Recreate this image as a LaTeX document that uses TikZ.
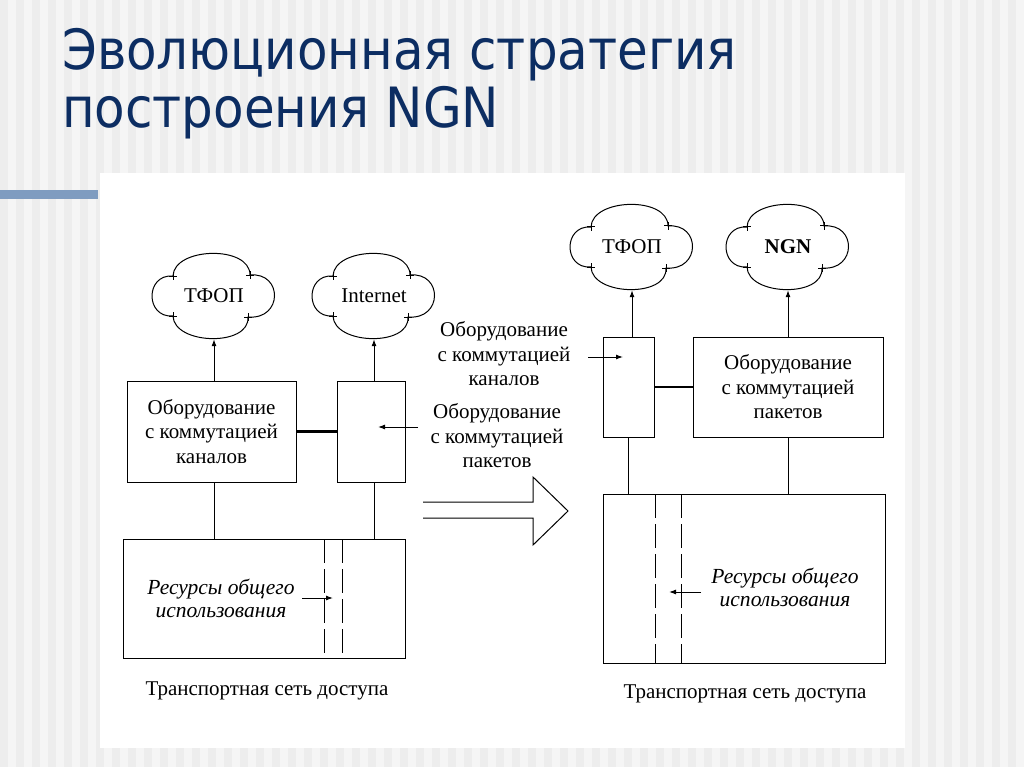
\documentclass[tikz,border=0pt]{standalone}
\usepackage{fontspec}
\setmainfont{Liberation Serif}
\newfontfamily\titlefont{DejaVu Sans Condensed}
\usetikzlibrary{arrows.meta}
\definecolor{titleblue}{RGB}{12,45,98}
\definecolor{barblue}{RGB}{127,156,192}
\tikzset{
  box/.style={draw, line width=1pt, inner sep=0pt, align=center, font=\fontsize{21}{24.5}\selectfont},
  lbl/.style={align=center, inner sep=0pt, font=\fontsize{21}{24.5}\selectfont},
  res/.style={align=center, inner sep=0pt, font=\fontsize{21.5}{23}\selectfont\itshape},
  cl/.style={inner sep=0pt, minimum width=122pt, minimum height=86pt, font=\fontsize{21}{22}\selectfont},
  ttl/.style={anchor=base west, inner sep=0pt, text=titleblue, font=\titlefont\fontsize{55.5}{59}\selectfont},
  tip/.style={line width=1pt, -{Latex[length=7pt,width=5pt]}},
  link/.style={line width=1pt},
  thick link/.style={line width=2.2pt},
  dash line/.style={line width=1pt, dash pattern=on 24pt off 6pt},
}
\newcommand\cloudline[1]{%
  \begin{scope}[shift={(#1.center)}, line width=1pt]
    \draw (-41,-20) .. controls (-40,-49) and (36,-51) .. (36,-21)
      .. controls (69,-24) and (69,24) .. (34,21)
      .. controls (36,51) and (-40,49) .. (-41,20)
      .. controls (-69,22) and (-69,-22) .. (-41,-20);
    \foreach \p in {(-41,-20),(36,-21),(34,21),(-41,20)}
      \draw \p ++(-4,0) -- ++(8,0) \p ++(0,-4) -- ++(0,8);
  \end{scope}}
\begin{document}
\begin{tikzpicture}[x=1pt,y=-1pt]
\useasboundingbox (0,0) rectangle (1024,767);
\fill[black!4] (0,0) rectangle (1024,767);
\foreach \x in {0,16,...,1010} \fill[black!7] (\x,0) rectangle +(8,767);
\fill[white] (100,173) rectangle (905,748);
\fill[barblue] (0,190) rectangle (98,199);
\node[ttl] (title1) at (62,70){Эволюционная стратегия};
\node[ttl] (title2) at (62,128){построения NGN};
\node[cl] (tfopL) at (214,296){ТФОП};
\node[cl] (inet) at (374,296){Internet};
\cloudline{tfopL}
\cloudline{inet}
\node[box, minimum width=169pt, minimum height=101pt] (chL) at (211.5,431.5){Оборудование\\с коммутацией\\каналов};
\node[box, minimum width=68pt, minimum height=101pt] (pkL) at (371,431.5){};
\node[box, minimum width=282pt, minimum height=119pt] (resL) at (264,598.5){};
\draw[tip] (tfopL.south |- chL.north) -- (tfopL.south);
\draw[tip] (inet.south |- pkL.north) -- (inet.south);
\draw[thick link] (chL.east) -- (pkL.west);
\draw[link] (tfopL.south |- chL.south) -- (tfopL.south |- resL.north);
\draw[link] (inet.south |- pkL.south) -- (inet.south |- resL.north);
\draw[dash line] (324,539) -- (324,658);
\draw[dash line] (342,539) -- (342,658);
\node[res] (useL) at (221,598){Ресурсы общего\\использования};
\coordinate (useLa) at (302,598);
\coordinate (useLb) at (333,598);
\draw[tip] (useLa) -- (useLb);
\node[lbl] (netL) at (267,691){Транспортная сеть доступа};
\node[lbl] (lblPk) at (497,436){Оборудование\\с коммутацией\\пакетов};
\coordinate (pkLa) at (418,427);
\coordinate (pkLb) at (378,427);
\draw[tip] (pkLa) -- (pkLb);
\draw[line width=1pt] (423,502) -- (533,502) -- (533,477) -- (568,511) -- (533,545) -- (533,518) -- (423,518);
\node[cl] (tfopR) at (632,247){ТФОП};
\node[cl, font=\fontsize{21}{22}\selectfont\bfseries] (ngn) at (788,247){NGN};
\cloudline{tfopR}
\cloudline{ngn}
\node[box, minimum width=51pt, minimum height=100pt] (chR) at (628.5,387){};
\node[box, minimum width=190pt, minimum height=100pt] (pkR) at (788,387){Оборудование\\с коммутацией\\пакетов};
\node[box, minimum width=282pt, minimum height=169pt] (resR) at (744,578.5){};
\draw[tip] (tfopR.south |- chR.north) -- (tfopR.south);
\draw[tip] (ngn.south |- pkR.north) -- (ngn.south);
\draw[thick link] (chR.east) -- (pkR.west);
\draw[link] (chR.south) -- (chR.south |- resR.north);
\draw[link] (pkR.south) -- (pkR.south |- resR.north);
\draw[dash line] (655,494) -- (655,663);
\draw[dash line] (681,494) -- (681,663);
\node[res] (useR) at (785,587){Ресурсы общего\\использования};
\coordinate (useRa) at (701,592);
\coordinate (useRb) at (669,592);
\draw[tip] (useRa) -- (useRb);
\node[lbl] (netR) at (745,694){Транспортная сеть доступа};
\node[lbl] (lblCh) at (504,354){Оборудование\\с коммутацией\\каналов};
\coordinate (chRa) at (588,357);
\coordinate (chRb) at (623,357);
\draw[tip] (chRa) -- (chRb);
\end{tikzpicture}
\end{document}
